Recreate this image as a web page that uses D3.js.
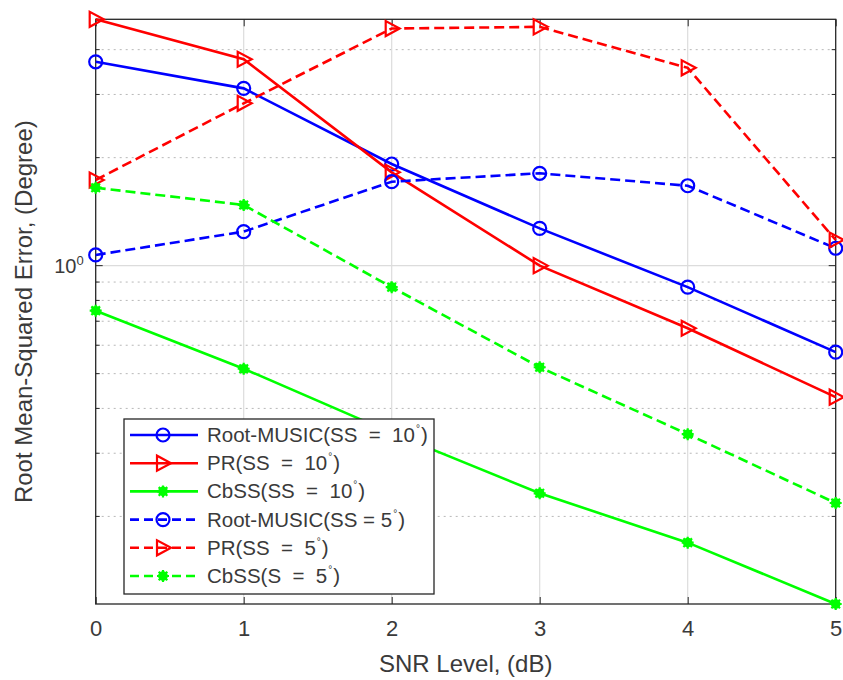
<!DOCTYPE html>
<html>
<head>
<meta charset="utf-8">
<script src="https://cdn.jsdelivr.net/npm/d3@7"></script>
<style>
  body { margin: 0; background: #fff; }
  text { font-family: "Liberation Sans", Arial, sans-serif; fill: #3a3a3a; }
</style>
</head>
<body>
<div id="chart"></div>
<script>
// SNR levels (x axis)
const snr = [0, 1, 2, 3, 4, 5];

// RMSE values (degrees)
const rmusic10 = [3.70, 3.12, 1.92, 1.27, 0.871, 0.574];
const pr10 = [4.86, 3.76, 1.82, 1.00, 0.669, 0.430];
const cbss10 = [0.749, 0.516, 0.342, 0.232, 0.169, 0.114];
const rmusic5 = [1.071, 1.244, 1.714, 1.809, 1.670, 1.118];
const pr5 = [1.733, 2.834, 4.58, 4.63, 3.56, 1.179];
const cbss5 = [1.649, 1.476, 0.871, 0.521, 0.339, 0.218];

const xTicks = [0, 1, 2, 3, 4, 5];

// legend entries: name before the degree sign
const legendNames = [
  "Root-MUSIC(SS  =  10",
  "PR(SS  =  10",
  "CbSS(SS  =  10",
  "Root-MUSIC(SS = 5",
  "PR(SS  =  5",
  "CbSS(S  =  5"
];

const series = [
  { values: rmusic10, color: "#0000ff", marker: "circle", dash: null },
  { values: pr10, color: "#ff0000", marker: "tri", dash: null },
  { values: cbss10, color: "#00ff00", marker: "star", dash: null },
  { values: rmusic5, color: "#0000ff", marker: "circle", dash: "10,5" },
  { values: pr5, color: "#ff0000", marker: "tri", dash: "10,5" },
  { values: cbss5, color: "#00ff00", marker: "star", dash: "10,5" }
];

const W = 843, H = 680;
const margin = { top: 19.3, right: 7.3, bottom: 76, left: 95.7 };
const iw = W - margin.left - margin.right;
const ih = H - margin.top - margin.bottom;

const svg = d3.select("#chart").append("svg")
  .attr("width", W)
  .attr("height", H);

const g = svg.append("g")
  .attr("transform", `translate(${margin.left},${margin.top})`);

const allVals = series.flatMap(s => s.values);
const x = d3.scaleLinear().domain([0, 5]).range([0, iw]);
const y = d3.scaleLog().domain(d3.extent(allVals)).range([ih, 0]);

const yTicks = y.ticks();
const majorY = yTicks.filter(v => Math.abs(Math.log10(v) - Math.round(Math.log10(v))) < 1e-9);
const minorY = yTicks.filter(v => !majorY.includes(v));

// grid
g.append("g").selectAll("line")
  .data(minorY)
  .enter().append("line")
  .attr("x1", 0).attr("x2", iw)
  .attr("y1", d => y(d)).attr("y2", d => y(d))
  .style("stroke", "#b8b8b8")
  .style("stroke-width", 1)
  .style("stroke-dasharray", "2,4");

g.append("g").selectAll("line")
  .data(majorY)
  .enter().append("line")
  .attr("x1", 0).attr("x2", iw)
  .attr("y1", d => y(d)).attr("y2", d => y(d))
  .style("stroke", "#dcdcdc")
  .style("stroke-width", 1.2);

g.append("g").selectAll("line")
  .data(xTicks.slice(1, -1))
  .enter().append("line")
  .attr("x1", d => x(d)).attr("x2", d => x(d))
  .attr("y1", 0).attr("y2", ih)
  .style("stroke", "#dcdcdc")
  .style("stroke-width", 1.2);

// axes (ticks inside, box on all sides)
const axisColor = "#262626";
function styleAxis(sel) {
  sel.select(".domain").remove();
  sel.selectAll(".tick line").style("stroke", axisColor).style("stroke-width", 1);
}

g.append("g")
  .attr("transform", `translate(0,${ih})`)
  .call(d3.axisBottom(x).tickValues(xTicks).tickSize(-7).tickPadding(16).tickFormat(d3.format("d")))
  .call(styleAxis)
  .selectAll("text")
  .style("font-size", "22px")
  .style("font-family", "'Liberation Sans', Arial, sans-serif")
  .style("fill", "#3a3a3a");

g.append("g")
  .call(d3.axisTop(x).tickValues(xTicks).tickSize(-7).tickFormat(""))
  .call(styleAxis);

[0, iw].forEach(px => {
  const side = px === 0 ? 1 : -1;
  g.append("g").selectAll("line")
    .data(minorY)
    .enter().append("line")
    .attr("x1", px).attr("x2", px + side * 4)
    .attr("y1", d => y(d)).attr("y2", d => y(d))
    .style("stroke", axisColor);
  g.append("g").selectAll("line")
    .data(majorY)
    .enter().append("line")
    .attr("x1", px).attr("x2", px + side * 7)
    .attr("y1", d => y(d)).attr("y2", d => y(d))
    .style("stroke", axisColor);
});

// y tick label 10^0
majorY.forEach(v => {
  const t = g.append("text")
    .attr("x", -12)
    .attr("y", y(v) + 7)
    .attr("text-anchor", "end")
    .style("font-size", "20px");
  t.append("tspan").text("10");
  t.append("tspan").attr("dy", -8).style("font-size", "13px").text(Math.round(Math.log10(v)));
});

g.append("rect")
  .attr("width", iw).attr("height", ih)
  .style("fill", "none")
  .style("stroke", axisColor)
  .style("stroke-width", 1.3);

// markers
function drawMarker(sel, type, color) {
  if (type === "circle") {
    sel.append("circle").attr("r", 6.5)
      .style("fill", "none").style("stroke", color).style("stroke-width", 2.2);
  } else if (type === "tri") {
    sel.append("path").attr("d", "M-6,-7.5L-6,7.5L8,0Z")
      .style("fill", "none").style("stroke", color).style("stroke-width", 2.2);
  } else {
    sel.append("circle").attr("r", 4.8).style("fill", color);
    sel.append("path")
      .attr("d", "M-6,0L6,0M0,-6L0,6M-4.3,-4.3L4.3,4.3M-4.3,4.3L4.3,-4.3")
      .style("stroke", color).style("stroke-width", 2.2);
  }
}

const line = d3.line()
  .x((d, i) => x(snr[i]))
  .y(d => y(d));

series.forEach(s => {
  g.append("path")
    .datum(s.values)
    .attr("d", line)
    .style("fill", "none")
    .style("stroke", s.color)
    .style("stroke-width", 2.6)
    .style("stroke-dasharray", s.dash);

  g.append("g").selectAll("g")
    .data(s.values)
    .enter().append("g")
    .attr("transform", (d, i) => `translate(${x(snr[i])},${y(d)})`)
    .each(function() { drawMarker(d3.select(this), s.marker, s.color); });
});

// axis labels
svg.append("text")
  .attr("x", margin.left + iw / 2)
  .attr("y", 672)
  .attr("text-anchor", "middle")
  .style("font-size", "24px")
  .text("SNR Level, (dB)");

svg.append("text")
  .attr("transform", `translate(32,${margin.top + ih / 2}) rotate(-90)`)
  .attr("text-anchor", "middle")
  .style("font-size", "24px")
  .text("Root Mean-Squared Error, (Degree)");

// legend
const lg = svg.append("g").attr("transform", "translate(124,419)");
lg.append("rect")
  .attr("width", 310).attr("height", 175)
  .style("fill", "#fff")
  .style("stroke", axisColor)
  .style("stroke-width", 1.3);

series.forEach((s, i) => {
  const row = lg.append("g").attr("transform", `translate(0,${16 + i * 28.2})`);
  row.append("line")
    .attr("x1", 6).attr("x2", 74)
    .style("stroke", s.color)
    .style("stroke-width", 2.6)
    .style("stroke-dasharray", s.dash ? "9,5" : null);
  const m = row.append("g").attr("transform", "translate(39,0)");
  drawMarker(m, s.marker, s.color);
  const t = row.append("text")
    .attr("x", 83).attr("y", 7)
    .style("font-size", "20.5px")
    .style("white-space", "pre");
  t.append("tspan").text(legendNames[i]);
  t.append("tspan").attr("dx", 1).attr("dy", -10).style("font-size", "10px").text("°");
  t.append("tspan").attr("dx", 1).attr("dy", 10).text(")");
});
</script>
</body>
</html>
